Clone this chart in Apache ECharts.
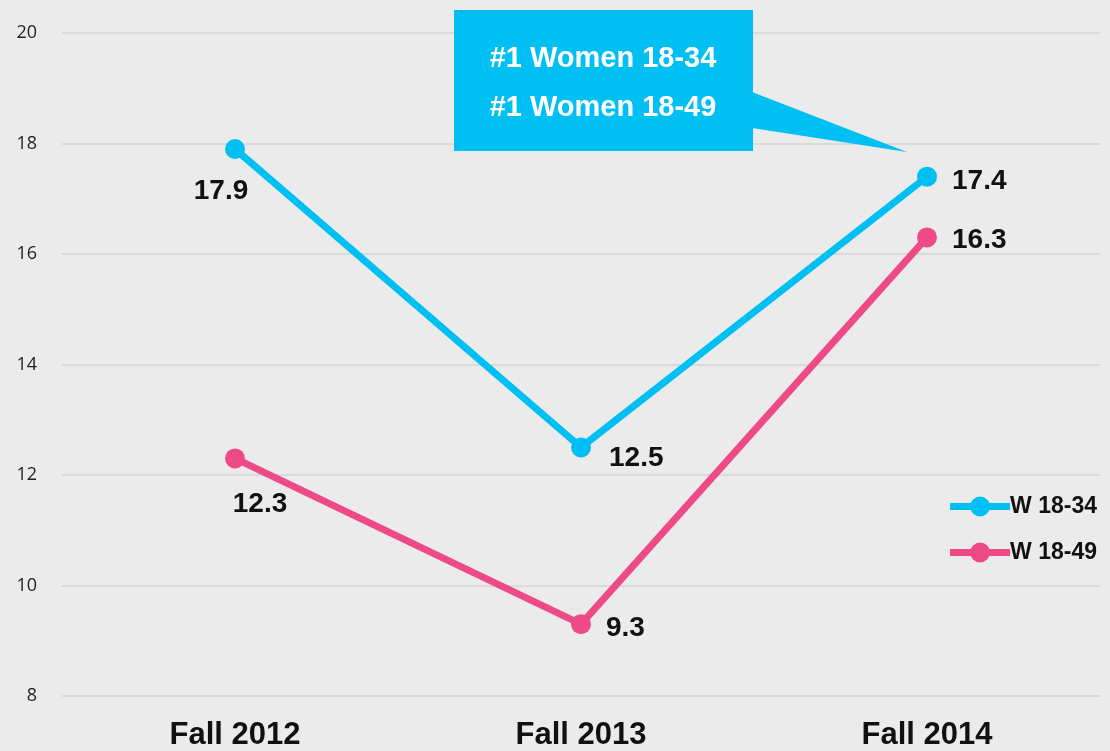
<!DOCTYPE html>
<html>
<head>
<meta charset="utf-8">
<script src="https://cdn.jsdelivr.net/npm/echarts@6/dist/echarts.min.js"></script>
<style>
  html, body { margin: 0; padding: 0; background: #ebebeb; }
  #chart { width: 1110px; height: 751px; }
</style>
</head>
<body>
<div id="chart"></div>
<script>
const categories = ['Fall 2012', 'Fall 2013', 'Fall 2014']
const w1834 = [17.9, 12.5, 17.4]
const w1849 = [12.3, 9.3, 16.3]
const seriesNames = ['W 18-34', 'W 18-49']
const calloutLines = ['#1 Women 18-34', '#1 Women 18-49']

const blue = '#00bff3'
const pink = '#ee4b86'
const font = '"Liberation Sans", Arial, sans-serif'

// label placement per point: [position, offset]
const blueLabels = [['inside', [-14, 42]], ['right', [13, 11]], ['right', [10, 5]]]
const pinkLabels = [['inside', [25, 46]], ['right', [10, 4]], ['right', [10, 3]]]

function makeData (values, labels) {
  return values.map(function (v, i) {
    return { value: v, label: { position: labels[i][0], offset: labels[i][1] } }
  })
}

const labelStyle = {
  show: true,
  fontFamily: font,
  fontWeight: 'bold',
  fontSize: 28,
  color: '#111'
}

const chart = echarts.init(document.getElementById('chart'))
chart.setOption({
  backgroundColor: '#ebebeb',
  animation: false,
  grid: { left: 62, right: 10, top: 33, bottom: 53 },
  xAxis: {
    type: 'category',
    data: categories,
    axisLine: { show: false },
    axisTick: { show: false },
    axisLabel: {
      margin: 24,
      fontFamily: font,
      fontWeight: 'bold',
      fontSize: 31,
      color: '#111'
    }
  },
  yAxis: {
    type: 'value',
    min: 8,
    max: 20,
    interval: 2,
    axisLine: { show: false },
    axisTick: { show: false },
    axisLabel: {
      margin: 25,
      fontFamily: '"Open Sans", "Liberation Sans", sans-serif',
      fontSize: 18,
      color: '#222'
    },
    splitLine: { lineStyle: { color: '#dadada', width: 2 } }
  },
  legend: {
    orient: 'vertical',
    right: 8,
    top: 490,
    itemWidth: 60,
    itemHeight: 25,
    itemGap: 23,
    lineStyle: { width: 7 },
    textStyle: { fontFamily: font, fontWeight: 'bold', fontSize: 23, color: '#111', padding: [0, 0, 0, -5] },
    data: seriesNames
  },
  series: [
    {
      name: seriesNames[0],
      type: 'line',
      data: makeData(w1834, blueLabels),
      color: blue,
      symbol: 'circle',
      symbolSize: 20,
      lineStyle: { width: 7 },
      label: labelStyle,
      z: 3
    },
    {
      name: seriesNames[1],
      type: 'line',
      data: makeData(w1849, pinkLabels),
      color: pink,
      symbol: 'circle',
      symbolSize: 20,
      lineStyle: { width: 7 },
      label: labelStyle,
      z: 2
    }
  ],
  graphic: [
    {
      type: 'polygon',
      z: 100,
      shape: { points: [[752, 92], [907, 152], [752, 128]] },
      style: { fill: blue }
    },
    {
      type: 'rect',
      z: 100,
      shape: { x: 454, y: 10, width: 299, height: 141 },
      style: { fill: blue }
    },
    {
      type: 'text',
      z: 101,
      x: 603,
      y: 59,
      style: {
        text: calloutLines[0],
        fill: '#fff',
        font: 'bold 29px ' + font,
        align: 'center',
        verticalAlign: 'middle'
      }
    },
    {
      type: 'text',
      z: 101,
      x: 603,
      y: 108,
      style: {
        text: calloutLines[1],
        fill: '#fff',
        font: 'bold 29px ' + font,
        align: 'center',
        verticalAlign: 'middle'
      }
    }
  ]
})
</script>
</body>
</html>
